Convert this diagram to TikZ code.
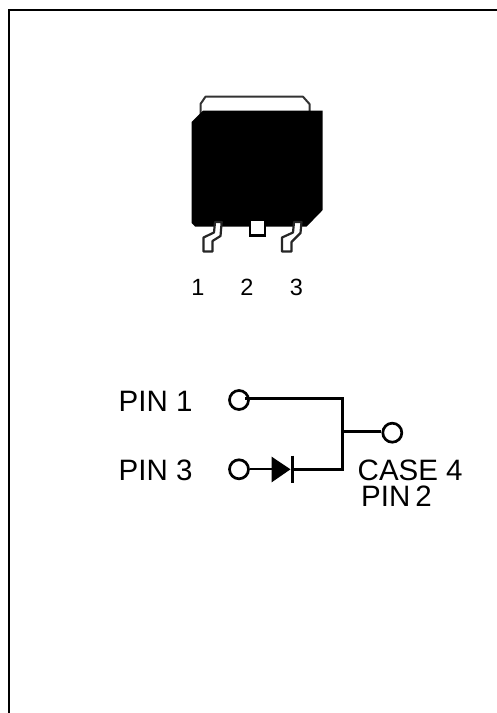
\documentclass[tikz,border=0pt]{standalone}
\usepackage{fontspec}
\setmainfont{Liberation Sans}
\tikzset{
  px/.style={x=1pt,y=-1pt},
  wire/.style={line width=2.6pt,black},
  pin/.style={circle,draw=black,line width=2.7pt,fill=white,minimum size=19pt,inner sep=0pt},
  lbl/.style={inner sep=0pt,font=\fontsize{29.5}{31}\selectfont,anchor=base west},
  num/.style={inner sep=0pt,font=\fontsize{23.5}{25}\selectfont,anchor=base},
  frameline/.style={line width=2pt,black},
  lead/.style={line width=2.2pt,draw=black!85,fill=white,line join=round}
}
\begin{document}
\begin{tikzpicture}[px]
\useasboundingbox (0,0) rectangle (497,713);
\fill[white] (0,0) rectangle (497,713);
\draw[frameline] (9.3,713) -- (9.3,10.2) -- (497,10.2);
% tab
\draw[line width=2pt,draw=black!80,fill=white,line join=round] (200.5,114) -- (200.5,104) -- (205.5,96.7) -- (303,96.7) -- (309.5,104) -- (309.5,114) -- cycle;
% body
\fill[black] (203,110.7) -- (322.7,110.7) -- (322.7,210) -- (306.7,226.5) -- (195,226.5) -- (191.7,223) -- (191.7,122) -- cycle;
% package details
\draw[lead] (215,222) -- (221.7,222) -- (220.5,236) -- (212.5,241) -- (212.5,251.5) -- (203.5,251.5) -- (203.5,237.5) -- (214,232.5) -- cycle;
\draw[lead] (294,222) -- (301.5,222) -- (300.5,233) -- (291.5,242) -- (291.5,251.5) -- (282,251.5) -- (282,237.5) -- (293,232.5) -- cycle;
\fill[black] (249,222) rectangle (266,237);
\fill[white] (251,221) rectangle (264,233.5);
% numbers
\node[num] (n1) at (198,295) {1};
\node[num] (n2) at (247,295) {2};
\node[num] (n3) at (296.5,295) {3};
% circuit
\coordinate (c1) at (342.3,398.3);
\coordinate (c3) at (342.3,469.3);
\coordinate (j) at (342.3,431.7);
\coordinate (da) at (272,469.3);
\coordinate (dk) at (292,469.3);
\node[pin] (p1) at (239,400) {};
\node[pin] (p3) at (239,469.3) {};
\node[pin] (p4) at (392.3,432.7) {};
\draw[wire,line cap=rect] (p1.north east |- c1) -- (c1) -- (c3) -- (dk);
\draw[wire] (j) -- (p4.west |- j);
\draw[line width=2pt] (p3.east) -- (da);
\fill[black] (271.7,456.7) -- (290.5,469.3) -- (271.7,482.3) -- cycle;
\draw[line width=3pt] (292.3,455.7) -- (292.3,483.3);
% labels
\node[lbl] (t1) at (118.5,411.7) {PIN 1};
\node[lbl] (t3) at (118.5,480) {PIN 3};
\node[lbl] (t4) at (357.5,480) {CASE 4};
\node[lbl] (t2) at (361,506.7) {PIN\hspace{0.17em}2};
\end{tikzpicture}
\end{document}
